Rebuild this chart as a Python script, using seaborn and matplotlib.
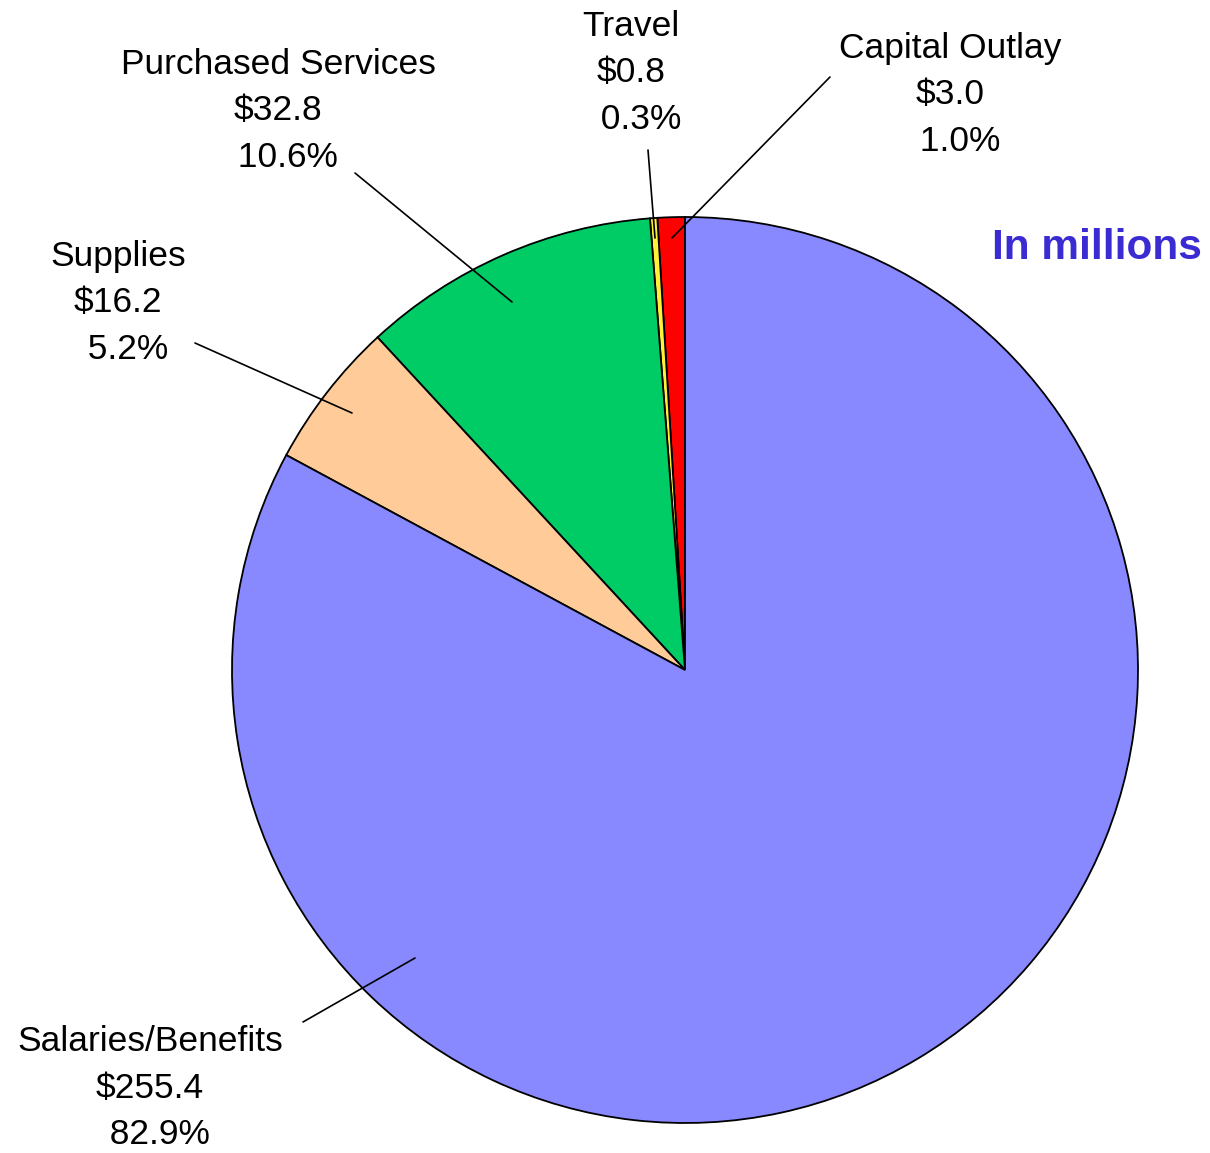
import matplotlib
matplotlib.use("Agg")
import matplotlib.pyplot as plt
import seaborn as sns

# ---- data ----
categories = ["Capital Outlay", "Travel", "Purchased Services", "Supplies", "Salaries/Benefits"]
amounts = [3.0, 0.8, 32.8, 16.2, 255.4]          # $ millions
percent_labels = ["1.0%", "0.3%", "10.6%", "5.2%", "82.9%"]
colors = ["#FF0000", "#FFF03A", "#00CC66", "#FFCC99", "#8888FF"]

# ---- layout (pixel coordinates, origin top-left) ----
W, H = 1210, 1153
center_px = (685, 670)
radius_px = 453
label_pos = {
    "Capital Outlay": (950, 95),
    "Travel": (631, 73),
    "Purchased Services": (278, 111),
    "Supplies": (118, 303),
    "Salaries/Benefits": (150, 1088),
}
leader = {
    "Capital Outlay": ((830, 77), (672, 238)),
    "Travel": ((648, 150), (655, 238)),
    "Purchased Services": ((355, 173), (512, 302)),
    "Supplies": ((195, 343), (352, 413)),
    "Salaries/Benefits": ((303, 1022), (415, 958)),
}

sns.set_theme(style="white")
plt.rcParams["font.family"] = ["Liberation Sans", "DejaVu Sans"]

fig = plt.figure(figsize=(W / 100, H / 100), dpi=100)
ax = fig.add_axes([0, 0, 1, 1])

def fy(y):
    return H - y

ax.pie(amounts, colors=colors, startangle=90, counterclock=True,
       center=(center_px[0], fy(center_px[1])), radius=radius_px,
       wedgeprops=dict(edgecolor="black", linewidth=1.3))

for cat, amt, pct in zip(categories, amounts, percent_labels):
    x, y = label_pos[cat]
    ax.text(x, fy(y), f"{cat}\n${amt:.1f}\n  {pct}", ha="center", va="center",
            multialignment="center", fontsize=25.5, linespacing=1.52, color="black")
    (x0, y0), (x1, y1) = leader[cat]
    ax.plot([x0, x1], [fy(y0), fy(y1)], color="black", linewidth=1.2)

ax.text(1097, fy(248), "In millions", ha="center", va="center",
        fontsize=30.5, fontweight="bold", color="#3B2BD3")

ax.set_xlim(0, W)
ax.set_ylim(0, H)
ax.set_aspect("equal")
ax.axis("off")

fig.savefig("out.png", dpi=100, facecolor="white")
